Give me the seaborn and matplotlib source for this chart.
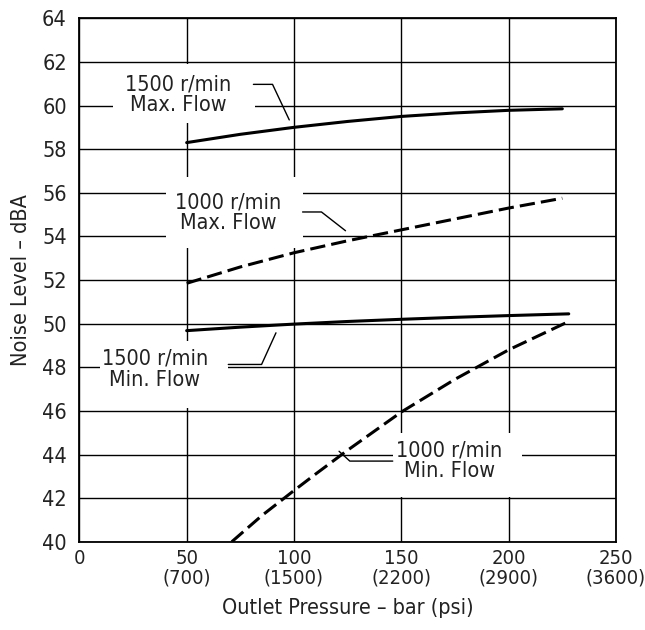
import matplotlib
matplotlib.use('Agg')
import matplotlib.pyplot as plt
from matplotlib import font_manager
from matplotlib.patches import Rectangle
import seaborn as sns
import pandas as pd

# curve data: outlet pressure (bar) vs noise level (dBA)
pressure_1500_max = [50, 75, 100, 125, 150, 175, 200, 225]
noise_1500_max = [58.3, 58.68, 59.0, 59.27, 59.5, 59.66, 59.78, 59.85]

pressure_1000_max = [50, 75, 100, 125, 150, 175, 200, 225]
noise_1000_max = [51.85, 52.6, 53.25, 53.8, 54.3, 54.8, 55.3, 55.75]

pressure_1500_min = [50, 75, 100, 125, 150, 175, 200, 228]
noise_1500_min = [49.68, 49.84, 49.98, 50.1, 50.2, 50.29, 50.37, 50.45]

pressure_1000_min = [71, 85, 100, 110, 125, 150, 175, 200, 228]
noise_1000_min = [40.0, 41.2, 42.35, 43.1, 44.2, 45.95, 47.45, 48.8, 50.1]

x_ticks = [0, 50, 100, 150, 200, 250]
x_tick_labels = ['0', '50\n(700)', '100\n(1500)', '150\n(2200)', '200\n(2900)', '250\n(3600)']
y_ticks = list(range(40, 65, 2))

sns.set_style('white')
installed = {f.name for f in font_manager.fontManager.ttflist}
if 'Liberation Sans Narrow' in installed:
    plt.rcParams['font.family'] = ['Liberation Sans Narrow', 'DejaVu Sans']
else:
    plt.rcParams['font.family'] = ['DejaVu Sans']
    plt.rcParams['font.stretch'] = 'condensed'
FS = 15.5

curves = [
    ('1500 max', '1500', pressure_1500_max, noise_1500_max),
    ('1000 max', '1000', pressure_1000_max, noise_1000_max),
    ('1500 min', '1500', pressure_1500_min, noise_1500_min),
    ('1000 min', '1000', pressure_1000_min, noise_1000_min),
]
rows = []
for name, speed, xs, ys in curves:
    for x, y in zip(xs, ys):
        rows.append({'curve': name, 'speed': speed, 'pressure': x, 'noise': y})
df = pd.DataFrame(rows)

fig, ax = plt.subplots(figsize=(6.45, 6.30), dpi=100)
fig.subplots_adjust(left=0.123, right=0.955, bottom=0.140, top=0.971)

sns.lineplot(data=df, x='pressure', y='noise', hue='curve', style='speed',
             palette={c[0]: 'black' for c in curves},
             dashes={'1500': '', '1000': (5, 2)},
             estimator=None, sort=False, lw=2.2, legend=False, ax=ax, zorder=4)

ax.set_xlim(0, 250)
ax.set_ylim(40, 64)
ax.set_xticks(x_ticks)
ax.set_xticklabels(x_tick_labels)
ax.set_yticks(y_ticks)
for t in ax.get_xticklabels():
    t.set_linespacing(1.05)
ax.grid(True, color='black', lw=1.0)
ax.set_axisbelow(True)
for s in ax.spines.values():
    s.set_color('black')
    s.set_linewidth(1.3)
ax.tick_params(length=0, labelsize=FS, colors='#222222')
ax.tick_params(axis='x', pad=5, labelsize=14.5)
ax.tick_params(axis='y', pad=9)

ax.set_xlabel('Outlet Pressure – bar (psi)', fontsize=FS, color='#222222')
ax.set_ylabel('Noise Level – dBA', fontsize=FS, color='#222222')
ax.xaxis.set_label_coords(0.5, -0.108)
ax.yaxis.set_label_coords(-0.09, 0.5)

# white boxes behind the curve labels (break the grid like the original)
boxes = [(15.7, 59.2, 81.8, 61.9), (40.4, 53.47, 104.1, 56.72),
         (9.7, 46.13, 69.4, 49.2), (146.0, 42.05, 206.1, 44.98)]
for x0, y0, x1, y1 in boxes:
    ax.add_patch(Rectangle((x0, y0), x1 - x0, y1 - y0, facecolor='white',
                           edgecolor='none', zorder=1))

labels = [('1500 r/min\nMax. Flow', 46.0, 60.48),
          ('1000 r/min\nMax. Flow', 69.4, 55.09),
          ('1500 r/min\nMin. Flow', 35.1, 47.91),
          ('1000 r/min\nMin. Flow', 172.3, 43.72)]
for txt, x, y in labels:
    ax.text(x, y, txt, ha='center', va='center', multialignment='center',
            fontsize=FS, color='#222222', linespacing=1.05, zorder=3)

leaders = [([81.1, 90.0, 97.8], [60.97, 60.97, 59.34]),
           ([104.0, 112.8, 124.0], [55.12, 55.12, 54.26]),
           ([69.4, 84.9, 91.6], [48.13, 48.13, 49.58]),
           ([121.0, 126.0, 146.0], [44.15, 43.7, 43.7])]
for xs, ys in leaders:
    ax.plot(xs, ys, color='black', lw=1.0, zorder=3)

fig.savefig('out.png', dpi=100)
